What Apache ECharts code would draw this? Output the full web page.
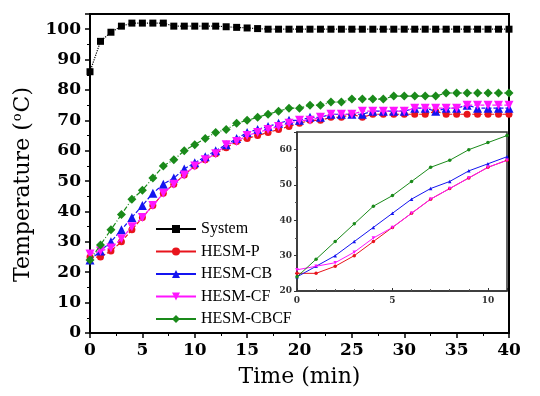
<!DOCTYPE html>
<html>
<head>
<meta charset="utf-8">
<script src="https://cdn.jsdelivr.net/npm/echarts@6/dist/echarts.min.js"></script>
<style>html,body{margin:0;padding:0;background:#fff;}#c{width:540px;height:396px;}</style>
</head>
<body>
<div id="c"></div>
<script>
var time = [0,1,2,3,4,5,6,7,8,9,10,11,12,13,14,15,16,17,18,19,20,21,22,23,24,25,26,27,28,29,30,31,32,33,34,35,36,37,38,39,40];
var system = [86,96,99,101,102,102,102,102,101,101,101,101,101,100.8,100.6,100.4,100.2,100,100,100,100,100,100,100,100,100,100,100,100,100,100,100,100,100,100,100,100,100,100,100,100];
var hesmP = [25,25,27,30,34,38,42,46,49,52,55,57,59,61,63,64,65,66,67,68,69,70,70,71,71,72,71,72,72,72,72,72,72,73,72,72,72,72,72,72,72];
var hesmCB = [24,27,30,34,38,42,46,49,51,54,56,58,60,62,64,66,67,68,69,70,70,71,71,72,72,72,72,73,73,73,73,74,74,73,74,74,75,74,74,74,74];
var hesmCF = [26,27,28,31,35,38,42,46,49,52,55,57,59,62,63,65,66,67,68,69,70,70,71,72,72,72,73,73,73,73,73,74,74,74,74,74,75,75,75,75,75];
var hesmCBCF = [24,29,34,39,44,47,51,55,57,60,62,64,66,67,69,70,71,72,73,74,74,75,75,76,76,77,77,77,77,78,78,78,78,78,79,79,79,79,79,79,79];
var insetCount = 12; // inset shows 0..11 min

var names = ['System','HESM-P','HESM-CB','HESM-CF','HESM-CBCF'];
var colors = ['#000000','#e8141c','#1414f0','#ff14ff','#1a8a1a'];

function pairs(arr, n) {
  var out = [];
  var len = n || arr.length;
  for (var i = 0; i < len; i++) out.push([time[i], arr[i]]);
  return out;
}

var chart = echarts.init(document.getElementById('c'), null, {renderer:'canvas'});
var serifB = 'DejaVu Serif';
var mainSeries = [
  {name:names[0], data:pairs(system), symbol:'rect', symbolSize:7, color:colors[0], line:'dotted', z:6},
  {name:names[1], data:pairs(hesmP), symbol:'circle', symbolSize:7, color:colors[1], line:[4,2], z:3},
  {name:names[2], data:pairs(hesmCB), symbol:'triangle', symbolSize:9, color:colors[2], line:[4,2], z:4},
  {name:names[3], data:pairs(hesmCF), symbol:'triangle', symbolRotate:180, symbolSize:9, color:colors[3], line:[4,2], z:5},
  {name:names[4], data:pairs(hesmCBCF), symbol:'diamond', symbolSize:9, color:colors[4], line:[5,2,1,2], z:6}
].map(function(s){
  return {
    name:s.name, type:'line', xAxisIndex:0, yAxisIndex:0, data:s.data,
    symbol:s.symbol, symbolSize:s.symbolSize, symbolRotate:s.symbolRotate||0,
    itemStyle:{color:s.color}, lineStyle:{color:s.color, width:1.2, type:s.line},
    z:s.z, animation:false
  };
});
var insetSrc = [hesmP, hesmCB, hesmCF, hesmCBCF];
var insetSym = ['circle','triangle','triangle','circle'];
var insetSeries = insetSrc.map(function(arr, i){
  return {
    name:names[i+1]+' ', type:'line', xAxisIndex:1, yAxisIndex:1, data:pairs(arr, insetCount),
    symbol:insetSym[i], symbolSize:3.5, symbolRotate: i===2 ? 180 : 0,
    itemStyle:{color:colors[i+1]}, lineStyle:{color:colors[i+1], width:1},
    z:10, animation:false
  };
});

var option = {
  backgroundColor:'#fff',
  animation:false,
  grid:[
    {left:90, right:31, top:14, bottom:63, show:true, borderColor:'#000', borderWidth:2, backgroundColor:'transparent', containLabel:false},
    {left:297, right:33, top:132, bottom:105, show:true, borderColor:'#333', borderWidth:1.5, backgroundColor:'#fff', z:8}
  ],
  legend:{
    data:names, orient:'vertical', left:150, top:216,
    itemWidth:40, itemHeight:10, itemGap:6.5,
    textStyle:{fontFamily:'Liberation Serif', fontSize:16, color:'#000'},
    lineStyle:{type:'solid', width:2},
    selectedMode:false
  },
  xAxis:[
    {type:'value', gridIndex:0, min:0, max:40, interval:5,
     name:'Time (min)', nameLocation:'middle', nameGap:33,
     nameTextStyle:{fontFamily:serifB, fontSize:22, color:'#000'},
     axisLine:{lineStyle:{color:'#000', width:2}},
     axisTick:{inside:false, length:5, lineStyle:{width:1.5, color:'#000'}},
     minorTick:{show:true, splitNumber:2, length:3, lineStyle:{color:'#000', width:1}},
     axisLabel:{fontFamily:serifB, fontWeight:'bold', fontSize:17, color:'#000', margin:9},
     splitLine:{show:false}},
    {type:'value', gridIndex:1, min:0, max:11, interval:5,
     axisLine:{lineStyle:{color:'#333', width:1.5}},
     axisTick:{inside:true, length:3, lineStyle:{color:'#333'}},
     minorTick:{show:true, splitNumber:5, length:2, lineStyle:{color:'#555'}},
     axisLabel:{fontFamily:serifB, fontWeight:'bold', fontSize:9, color:'#333', margin:5, showMaxLabel:false},
     splitLine:{show:false}, z:9}
  ],
  yAxis:[
    {type:'value', gridIndex:0, min:0, max:105, interval:10,
     name:'{a|Temperature (}{s|o}{a|C)}', nameLocation:'middle', nameGap:54, nameRotate:90,
     nameTextStyle:{padding:[0,22,0,0], rich:{
       a:{fontFamily:serifB, fontSize:22, color:'#000'},
       s:{fontFamily:serifB, fontSize:13, color:'#000', verticalAlign:'top', padding:[0,1,12,1]}
     }},
     axisLine:{lineStyle:{color:'#000', width:2}},
     axisTick:{inside:false, length:5, lineStyle:{width:1.5, color:'#000'}},
     minorTick:{show:true, splitNumber:2, length:3, lineStyle:{color:'#000', width:1}},
     axisLabel:{fontFamily:serifB, fontWeight:'bold', fontSize:17, color:'#000', margin:9, showMaxLabel:false},
     splitLine:{show:false}},
    {type:'value', gridIndex:1, min:20, max:65, interval:10,
     axisLine:{lineStyle:{color:'#333', width:1.5}},
     axisTick:{inside:false, length:3, lineStyle:{color:'#333'}},
     minorTick:{show:true, splitNumber:2, length:2, lineStyle:{color:'#555'}},
     axisLabel:{fontFamily:serifB, fontWeight:'bold', fontSize:9, color:'#333', margin:5, showMaxLabel:false},
     splitLine:{show:false}, z:9}
  ],
  series: mainSeries.concat(insetSeries)
};
chart.setOption(option);
</script>
</body>
</html>
